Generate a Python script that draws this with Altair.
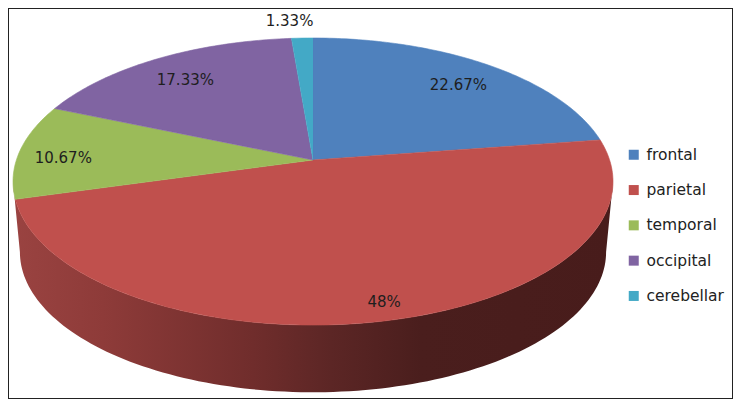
import numpy as np
import pandas as pd
import altair as alt

categories = ["frontal", "parietal", "temporal", "occipital", "cerebellar"]
values = [22.67, 48, 10.67, 17.33, 1.33]
colors = ["#4F81BD", "#C0504D", "#9BBB59", "#8064A2", "#43A9C6"]
labels = ["22.67%", "48%", "10.67%", "17.33%", "1.33%"]
label_radius = [0.82, 0.89, 0.84, 0.79, 1.18]
label_dx = [0, 8, -3, -2, -11]
label_dy = [5, 2, 5, 2, 2]

# camera of the tilted disc
CX, CY, SX, SY, K = 313, 160, 296.6, 140.3, 0.15
DEPTH, SHRINK = 71, 0.977


def project(frac, r=1.0):
    t = 2 * np.pi * np.asarray(frac, dtype=float)
    w = 1 + K * r * np.cos(t)
    return SX * r * np.sin(t) / w, SY * r * np.cos(t) / w


X = alt.X("x:Q", scale=alt.Scale(domain=[8, 733], range=[0, 725], nice=False, zero=False), axis=None)
Y = alt.Y("y:Q", scale=alt.Scale(domain=[399, 8], range=[391, 0], nice=False, zero=False), axis=None)
ORDER = alt.Order("i:Q")

# side wall
f_side = np.linspace(0.2740, 0.7260, 120)
bx, by = project(f_side)
tx, ty = bx[::-1], by[::-1]
side = pd.DataFrame({
    "x": np.r_[CX + SHRINK * bx, CX + tx],
    "y": np.r_[CY + DEPTH - SHRINK * by, CY - ty],
})
side["i"] = np.arange(len(side))
side_stops = [
    alt.GradientStop(offset=0.0, color="#9A4341"),
    alt.GradientStop(offset=0.15, color="#8E3B39"),
    alt.GradientStop(offset=0.40, color="#702D2C"),
    alt.GradientStop(offset=0.53, color="#5C2625"),
    alt.GradientStop(offset=0.68, color="#4A1E1D"),
    alt.GradientStop(offset=1.0, color="#481C1B"),
]
layers = [
    alt.Chart(side).mark_line(
        fill=alt.LinearGradient(gradient="linear", x1=0, x2=1, y1=0, y2=0, stops=side_stops),
        strokeOpacity=0,
    ).encode(x=X, y=Y, order=ORDER)
]

# top wedges
edges = np.r_[0, np.cumsum(values)] / 100
for n, col in enumerate(colors):
    f = np.linspace(edges[n], edges[n + 1], max(3, int(values[n] * 4)))
    px, py = project(f)
    d = pd.DataFrame({"x": np.r_[CX, CX + px], "y": np.r_[CY, CY - py]})
    d["i"] = np.arange(len(d))
    layers.append(
        alt.Chart(d).mark_line(fill=col, color=col, strokeWidth=0.6).encode(x=X, y=Y, order=ORDER)
    )

# value labels
mid = (edges[:-1] + edges[1:]) / 2
for n, lab in enumerate(labels):
    px, py = project(mid[n], label_radius[n])
    d = pd.DataFrame({"x": [CX + float(px)], "y": [CY - float(py)], "t": [lab]})
    layers.append(
        alt.Chart(d).mark_text(
            font="DejaVu Sans", fontSize=15, color="#1E1E1E", dx=label_dx[n], dy=label_dy[n]
        ).encode(x=X, y=Y, text="t:N")
    )

# legend
key = pd.DataFrame({"name": categories})
layers.append(
    alt.Chart(key).mark_point(filled=True, shape="square", opacity=0).encode(
        x=alt.value(0), y=alt.value(0),
        color=alt.Color(
            "name:N",
            scale=alt.Scale(domain=categories, range=colors),
            legend=alt.Legend(
                title=None, orient="none", legendX=618, legendY=139,
                symbolType="square", symbolSize=100, symbolOpacity=1, symbolStrokeWidth=0,
                labelFont="DejaVu Sans", labelFontSize=15.5, labelColor="#222222",
                labelOffset=5, rowPadding=18.3, labelLimit=200,
            ),
        ),
    )
)

chart = alt.layer(*layers).resolve_scale(x="shared", y="shared").properties(
    width=725, height=391, padding=0, autosize=alt.AutoSizeParams(type="none"), background="white"
).configure_view(stroke="#222222", strokeWidth=2)

chart.save("out.html", embed_options={"renderer": "svg", "actions": False})
